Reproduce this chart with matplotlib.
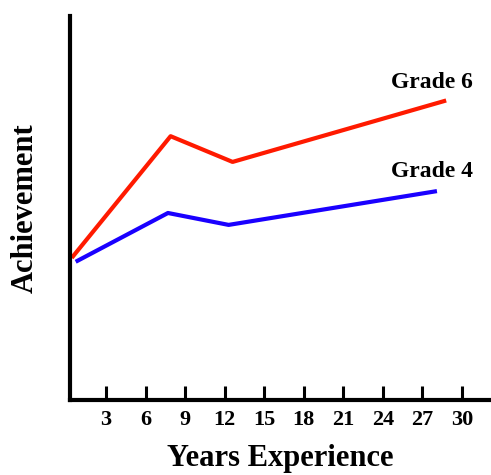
import matplotlib.pyplot as plt

# years of experience and achievement (arbitrary units)
years_g6 = [0.4, 7.9, 12.6, 28.8]
grade6 = [37.0, 68.7, 62.0, 78.0]
years_g4 = [0.7, 7.7, 12.3, 28.1]
grade4 = [36.0, 48.7, 45.6, 54.4]
xticks = [3, 6, 9, 12, 15, 18, 21, 24, 27, 30]

serif = ['Liberation Serif', 'DejaVu Serif']

fig = plt.figure(figsize=(4.91, 4.75), dpi=100)
ax = fig.add_axes([70 / 491, 75 / 475, 421 / 491, 384 / 475])

ax.plot(years_g6, grade6, color='#ff1a00', lw=3, solid_capstyle='butt')
ax.plot(years_g4, grade4, color='#1a00ff', lw=3, solid_capstyle='butt')

ax.text(27.7, 82.6, 'Grade 6', family=serif, fontweight='bold', fontsize=17,
        ha='center', va='center')
ax.text(27.7, 59.4, 'Grade 4', family=serif, fontweight='bold', fontsize=17,
        ha='center', va='center')

ax.set_xlim(0.27, 32.2)
ax.set_ylim(0, 100)
ax.set_xticks(xticks)
ax.set_xticklabels([str(t) for t in xticks], family=serif, fontweight='bold', fontsize=16)
ax.set_yticks([])
ax.tick_params(axis='x', direction='in', length=10, width=2.2, pad=7)

for side in ['top', 'right']:
    ax.spines[side].set_visible(False)
for side in ['left', 'bottom']:
    ax.spines[side].set_linewidth(3)

ax.set_xlabel('Years Experience', family=serif, fontweight='bold', fontsize=22, labelpad=10)
ax.set_ylabel('Achievement', family=serif, fontweight='bold', fontsize=22, labelpad=22)

fig.savefig('out.png', dpi=100)
